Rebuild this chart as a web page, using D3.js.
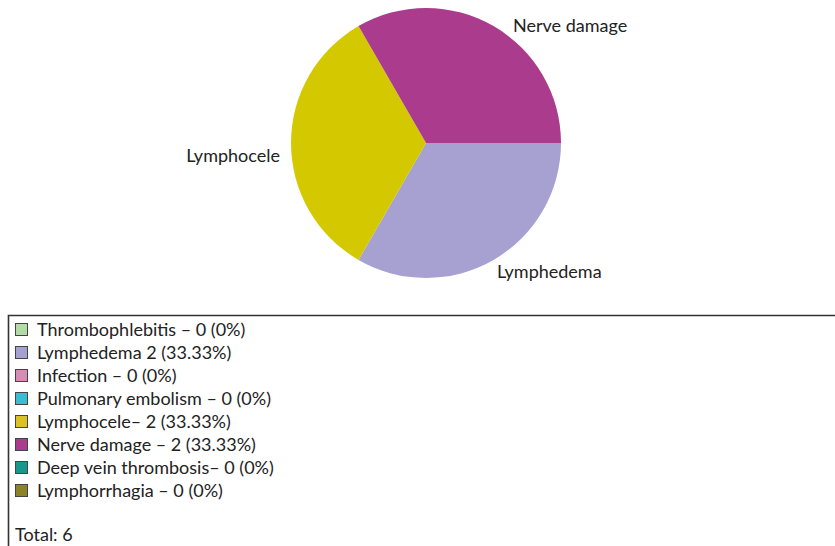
<!DOCTYPE html>
<html><head><meta charset="utf-8">
<script src="https://cdn.jsdelivr.net/npm/d3@7"></script>
<style>body{margin:0;background:#fff;} svg{display:block;font-family:Lato,"Open Sans",sans-serif;}</style>
</head><body>
<svg id="c" width="835" height="546"></svg>
<script>
const categories = ["Thrombophlebitis","Lymphedema","Infection","Pulmonary embolism","Lymphocele","Nerve damage","Deep vein thrombosis","Lymphorrhagia"];
const values = [0,2,0,0,2,2,0,0];
const legendLabels = ["Thrombophlebitis \u2013 0 (0%)","Lymphedema 2 (33.33%)","Infection \u2013 0 (0%)","Pulmonary embolism \u2013 0 (0%)","Lymphocele\u2013 2 (33.33%)","Nerve damage \u2013 2 (33.33%)","Deep vein thrombosis\u2013 0 (0%)","Lymphorrhagia \u2013 0 (0%)"];
const colors = ["#b2dba6","#a6a1d0","#d88cb4","#3bbcd4","#d4c900","#ab3b8c","#16998c","#8c8226"];
const legendColors = ["#b2dba6","#a6a1d0","#d88cb4","#3bbcd4","#dcc026","#ab3b8c","#16998c","#8c8226"];
const totalLabel = "Total: 6";

const svg = d3.select("#c");
const cx = 426, cy = 143, r = 135;
const data = categories.map((c,i)=>({name:c,value:values[i],color:colors[i]}));
const pie = d3.pie().sort(null).value(d=>d.value).startAngle(Math.PI/2).endAngle(Math.PI/2+2*Math.PI);
const arc = d3.arc().innerRadius(0).outerRadius(r);
const arcs = pie(data);
const g = svg.append("g").attr("transform",`translate(${cx},${cy})`);
g.selectAll("path").data(arcs.filter(a=>a.value>0)).join("path")
  .attr("d",arc).attr("fill",d=>d.data.color);

const labelArc = d3.arc().innerRadius(150).outerRadius(150);
g.selectAll("text.lbl").data(arcs.filter(a=>a.value>0)).join("text")
  .attr("class","lbl")
  .each(function(d){
    const [x,y] = labelArc.centroid(d);
    const mid = (d.startAngle+d.endAngle)/2;
    const s = Math.sin(mid), c = Math.cos(mid);
    const right = s > 0.01;
    const dx = right ? (c > 0 ? 12 : -4) : 4;
    const dy = c < -0.5 ? 5 : 18.5;
    d3.select(this)
      .attr("x", x + dx)
      .attr("y", y + dy)
      .attr("text-anchor", right ? "start" : "end");
  })
  .attr("font-size",18).attr("fill","#222")
  .text(d=>d.data.name);

// legend
svg.append("path").attr("d","M8.5,560 L8.5,315.5 L840,315.5").attr("fill","none").attr("stroke","#333").attr("stroke-width",1.6);
const lg = svg.append("g");
const rowY = d3.scalePoint().domain(d3.range(categories.length)).range([330, 491]);
lg.selectAll("rect").data(legendLabels).join("rect")
  .attr("x",15.5).attr("y",(d,i)=>rowY(i)-6.5).attr("width",12).attr("height",12)
  .attr("fill",(d,i)=>legendColors[i]).attr("stroke","#444").attr("stroke-width",1);
lg.selectAll("text").data(legendLabels).join("text")
  .attr("x",37).attr("y",(d,i)=>rowY(i)+6).attr("font-size",18).attr("fill","#222")
  .text(d=>d);
svg.append("text").attr("x",15).attr("y",541).attr("font-size",18).attr("fill","#222").text(totalLabel);
</script>
</body></html>
